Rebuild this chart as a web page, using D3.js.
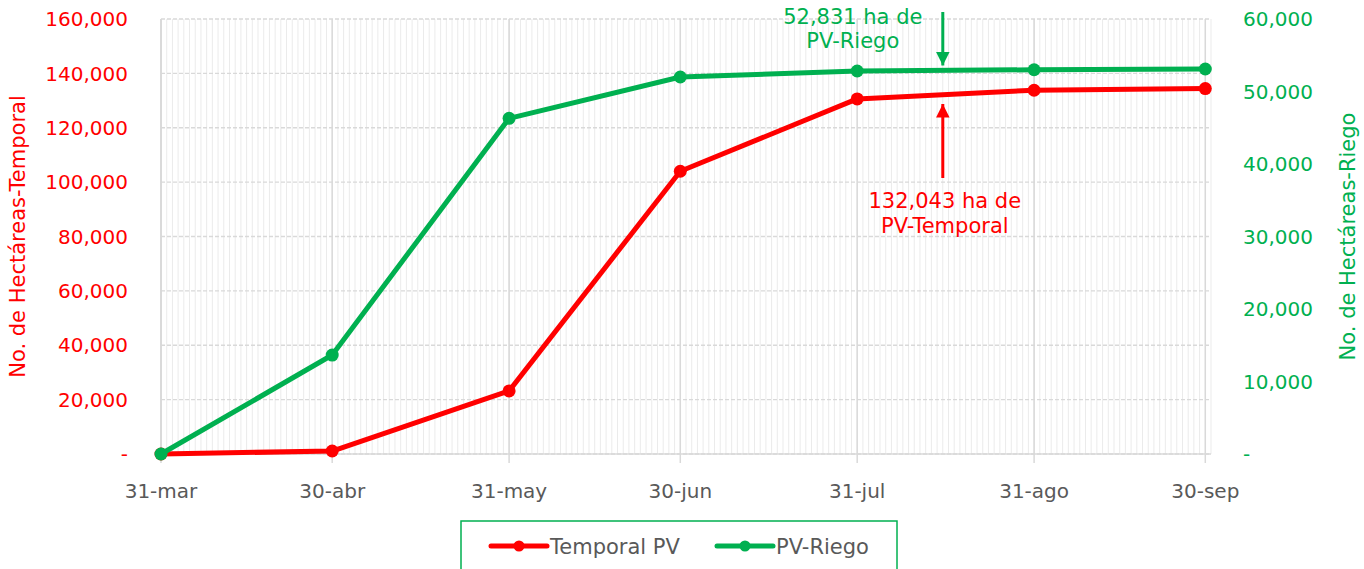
<!DOCTYPE html>
<html>
<head>
<meta charset="utf-8">
<script src="https://cdn.jsdelivr.net/npm/d3@7"></script>
<style>
  body { margin: 0; background: #fff; }
  svg { font-family: "DejaVu Sans", sans-serif; }
</style>
</head>
<body>
<div id="chart"></div>
<script>
// fechas de corte y etiquetas del eje x
var fechas = ["2020-03-31", "2020-04-30", "2020-05-31", "2020-06-30", "2020-07-31", "2020-08-31", "2020-09-30"];
var etiquetas = ["31-mar", "30-abr", "31-may", "30-jun", "31-jul", "31-ago", "30-sep"];

// hectáreas acumuladas
var temporal = [0, 1100, 23200, 104000, 130600, 133800, 134400];
var riego = [0, 13650, 46300, 52000, 52831, 53000, 53100];

var ticksIzq = [0, 20000, 40000, 60000, 80000, 100000, 120000, 140000, 160000];
var ticksDer = [0, 10000, 20000, 30000, 40000, 50000, 60000];

// notas con flecha
var notaRiego = ["52,831 ha de", "PV-Riego"];
var notaTemporal = ["132,043 ha de", "PV-Temporal"];
var fechaNota = "2020-08-15";

var rojo = "#ff0000", verde = "#00b050", gris = "#595959";

var W = 1364, H = 569;
var margin = {top: 19, right: 153, bottom: 115, left: 161};
var parse = d3.timeParse("%Y-%m-%d");
var dias = fechas.map(parse);

var svg = d3.select("#chart")
      .append("svg")
      .attr("width", W)
      .attr("height", H);

var x = d3.scaleTime()
      .domain([dias[0], d3.timeDay.offset(dias[dias.length - 1], 1)])
      .range([margin.left, W - margin.right]);

var yIzq = d3.scaleLinear().domain([0, 160000]).range([H - margin.bottom, margin.top]);
var yDer = d3.scaleLinear().domain([0, 60000]).range([H - margin.bottom, margin.top]);

var fmt = function(v) { return v === 0 ? "-" : d3.format(",")(v); };

// cuadricula diaria
svg.append("g")
  .selectAll("line")
  .data(d3.timeDay.range(x.domain()[0], d3.timeDay.offset(x.domain()[1], 1)))
  .enter().append("line")
    .attr("x1", function(d) { return x(d); })
    .attr("x2", function(d) { return x(d); })
    .attr("y1", yIzq(160000))
    .attr("y2", yIzq(0))
    .style("stroke", "#ebebeb")
    .style("stroke-width", 1);

// lineas horizontales
svg.append("g")
  .selectAll("line")
  .data(ticksIzq)
  .enter().append("line")
    .attr("x1", x.range()[0])
    .attr("x2", x.range()[1])
    .attr("y1", function(d) { return yIzq(d); })
    .attr("y2", function(d) { return yIzq(d); })
    .style("stroke", "#d9d9d9")
    .style("stroke-width", 1.3)
    .style("stroke-dasharray", "4,2");

// lineas de mes
svg.append("g")
  .selectAll("line")
  .data(dias)
  .enter().append("line")
    .attr("x1", function(d) { return x(d); })
    .attr("x2", function(d) { return x(d); })
    .attr("y1", yIzq(160000))
    .attr("y2", yIzq(0) + 9)
    .style("stroke", "#d9d9d9")
    .style("stroke-width", 1.5);

// eje x
svg.append("line")
  .attr("x1", x.range()[0]).attr("x2", x.range()[1])
  .attr("y1", yIzq(0)).attr("y2", yIzq(0))
  .style("stroke", "#d9d9d9").style("stroke-width", 1.5);
svg.append("line")
  .attr("x1", x.range()[0]).attr("x2", x.range()[0])
  .attr("y1", yIzq(0)).attr("y2", yIzq(160000))
  .style("stroke", "#d9d9d9").style("stroke-width", 1.5);

svg.append("g")
  .selectAll("text")
  .data(dias)
  .enter().append("text")
    .attr("x", function(d) { return x(d); })
    .attr("y", yIzq(0) + 44)
    .attr("text-anchor", "middle")
    .style("font-size", "20px")
    .style("fill", gris)
    .text(function(d, i) { return etiquetas[i]; });

// ejes y
svg.append("g")
  .selectAll("text")
  .data(ticksIzq)
  .enter().append("text")
    .attr("x", 128)
    .attr("y", function(d) { return yIzq(d); })
    .attr("dy", "0.36em")
    .attr("text-anchor", "end")
    .style("font-size", "20px")
    .style("fill", rojo)
    .text(fmt);

svg.append("g")
  .selectAll("text")
  .data(ticksDer)
  .enter().append("text")
    .attr("x", 1243)
    .attr("y", function(d) { return yDer(d); })
    .attr("dy", "0.36em")
    .style("font-size", "20px")
    .style("fill", verde)
    .text(fmt);

svg.append("text")
  .attr("transform", "translate(25," + yIzq(80000) + ") rotate(-90)")
  .attr("text-anchor", "middle")
  .style("font-size", "21px")
  .style("fill", rojo)
  .text("No. de Hectáreas-Temporal");

svg.append("text")
  .attr("transform", "translate(1355," + yIzq(80000) + ") rotate(-90)")
  .attr("text-anchor", "middle")
  .style("font-size", "21px")
  .style("fill", verde)
  .text("No. de Hectáreas-Riego");

// series
var series = [
  {valores: temporal, y: yIzq, color: rojo},
  {valores: riego, y: yDer, color: verde}
];

series.forEach(function(s) {
  var linea = d3.line()
    .x(function(d, i) { return x(dias[i]); })
    .y(function(d) { return s.y(d); });

  svg.append("path")
    .datum(s.valores)
    .attr("d", linea)
    .style("fill", "none")
    .style("stroke", s.color)
    .style("stroke-width", 5)
    .style("stroke-linejoin", "round");

  svg.append("g")
    .selectAll("circle")
    .data(s.valores)
    .enter().append("circle")
      .attr("cx", function(d, i) { return x(dias[i]); })
      .attr("cy", function(d) { return s.y(d); })
      .attr("r", 6.5)
      .style("fill", s.color);
});

// flechas
var xn = x(parse(fechaNota));
var defs = svg.append("defs");
[["flechaVerde", verde], ["flechaRoja", rojo]].forEach(function(m) {
  defs.append("marker")
    .attr("id", m[0])
    .attr("viewBox", "0 0 10 10")
    .attr("refX", 10).attr("refY", 5)
    .attr("markerWidth", 5).attr("markerHeight", 4.5)
    .attr("markerUnits", "strokeWidth")
    .attr("orient", "auto")
    .append("path")
      .attr("d", "M0,0 L10,5 L0,10 z")
      .style("fill", m[1]);
});

svg.append("line")
  .attr("x1", xn).attr("x2", xn)
  .attr("y1", 12).attr("y2", yDer(52900) - 5)
  .style("stroke", verde).style("stroke-width", 3)
  .attr("marker-end", "url(#flechaVerde)");

svg.append("line")
  .attr("x1", xn).attr("x2", xn)
  .attr("y1", 178).attr("y2", yIzq(132043) + 9)
  .style("stroke", rojo).style("stroke-width", 3)
  .attr("marker-end", "url(#flechaRoja)");

svg.append("g")
  .selectAll("text")
  .data(notaRiego)
  .enter().append("text")
    .attr("x", xn - 90)
    .attr("y", function(d, i) { return 24 + i * 24; })
    .attr("text-anchor", "middle")
    .style("font-size", "21px")
    .style("fill", verde)
    .text(function(d) { return d; });

svg.append("g")
  .selectAll("text")
  .data(notaTemporal)
  .enter().append("text")
    .attr("x", xn + 2)
    .attr("y", function(d, i) { return 208 + i * 25; })
    .attr("text-anchor", "middle")
    .style("font-size", "21px")
    .style("fill", rojo)
    .text(function(d) { return d; });

// leyenda
var ley = svg.append("g");
ley.append("rect")
  .attr("x", 461).attr("y", 521)
  .attr("width", 436).attr("height", 60)
  .style("fill", "#fff")
  .style("stroke", verde)
  .style("stroke-width", 1.5);

var items = [
  {nombre: "Temporal PV", color: rojo, x0: 491},
  {nombre: "PV-Riego", color: verde, x0: 717}
];
items.forEach(function(it) {
  ley.append("line")
    .attr("x1", it.x0).attr("x2", it.x0 + 56)
    .attr("y1", 546).attr("y2", 546)
    .style("stroke", it.color).style("stroke-width", 5)
    .style("stroke-linecap", "round");
  ley.append("circle")
    .attr("cx", it.x0 + 28).attr("cy", 546).attr("r", 5.5)
    .style("fill", it.color);
  ley.append("text")
    .attr("x", it.x0 + 59).attr("y", 546)
    .attr("dy", "0.36em")
    .style("font-size", "21px")
    .style("fill", gris)
    .text(it.nombre);
});
</script>
</body>
</html>
